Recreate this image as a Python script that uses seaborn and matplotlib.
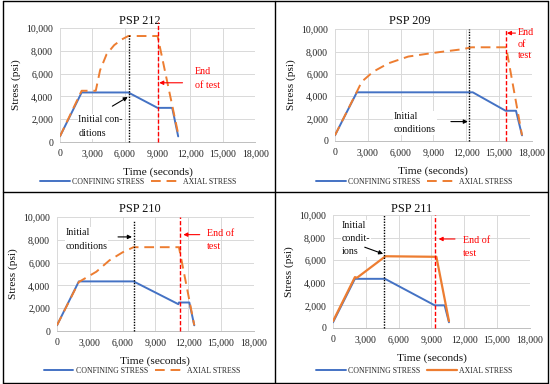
import numpy as np
import pandas as pd
import matplotlib
matplotlib.use('Agg')
import matplotlib.pyplot as plt
import seaborn as sns

# ---- data (time in s, stress in psi) ----
t212_conf = [0, 2000, 6300, 9000, 10350, 10900]
s212_conf = [500, 4350, 4350, 3000, 3000, 500]
t212_ax = [0, 2000, 3300, 3700, 4300, 5000, 5700, 6300, 9000, 10950]
s212_ax = [500, 4500, 4500, 6300, 7700, 8500, 9000, 9300, 9300, 500]

t209_conf = [0, 2000, 12600, 15600, 16550, 17100]
s209_conf = [500, 4350, 4350, 2700, 2700, 500]
t209_ax = [0, 2000, 2450, 3500, 4900, 6700, 9150, 11600, 12500, 15650, 17100]
s209_ax = [500, 4400, 5300, 6200, 6950, 7550, 7900, 8200, 8380, 8380, 500]

t210_conf = [0, 2000, 7000, 11100, 11150, 12100, 12550]
s210_conf = [500, 4350, 4350, 2350, 2500, 2500, 500]
t210_ax = [0, 2000, 2800, 3600, 4800, 6000, 7000, 11150, 12550]
s210_ax = [500, 4300, 4750, 5200, 6200, 6900, 7350, 7350, 500]

t211_conf = [0, 2000, 4750, 9300, 10200, 10600]
s211_conf = [500, 4350, 4350, 2000, 2000, 500]
t211_ax = [0, 2000, 2200, 4800, 9450, 10600]
s211_ax = [600, 4500, 4450, 6350, 6300, 600]

panel_names = ['PSP 212', 'PSP 209', 'PSP 210', 'PSP 211']
initial_time = [6400, 12300, 7000, 4680]
end_time = [9000, 15620, 11230, 9300]
initial_text = ['Initial con-\nditions', 'Initial\nconditions', 'Initial\nconditions', 'Initial\ncondit-\nions']
end_text = ['End\nof test', 'End\nof\ntest', 'End of\ntest', 'End of\ntest']

sns.set_theme(style='whitegrid')
plt.rcParams['font.family'] = ['Liberation Serif', 'DejaVu Serif']

blue = '#4472C4'
orange = '#ED7D31'
red = '#FF0000'

fig = plt.figure(figsize=(5.5, 3.84), dpi=100)

ax_pos = [[0.109, 0.630, 0.355, 0.297],
          [0.609, 0.633, 0.358, 0.291],
          [0.1036, 0.138, 0.358, 0.297],
          [0.6055, 0.146, 0.358, 0.294]]
title_xy = [(0.41, 1.066), (0.38, 1.07), (0.42, 1.073), (0.40, 1.056)]
legend_xy = [(0.251, 0.526), (0.753, 0.526), (0.258, 0.034), (0.753, 0.034)]

series = [(t212_conf, s212_conf, t212_ax, s212_ax),
          (t209_conf, s209_conf, t209_ax, s209_ax),
          (t210_conf, s210_conf, t210_ax, s210_ax),
          (t211_conf, s211_conf, t211_ax, s211_ax)]

# annotation placement: (text xy, arrow tail, arrow head) in data coords
init_ann = [((1700, 1360), (4830, 3150), (6250, 3950)),
            ((5400, 1600), (10600, 1730), (12150, 1730)),
            ((800, 8050), (5580, 8250), (6850, 8250)),
            ((800, 7900), (2900, 7150), (4580, 6560))]
end_ann = [((12450, 5570), (11300, 5200), (9150, 5200)),
           ((16720, 8660), (16500, 9650), (15720, 9650)),
           ((13680, 7980), (13050, 8450), (11550, 8450)),
           ((11900, 7170), (11150, 7880), (9650, 7880))]
init_spacing = [1.7, 1.7, 1.7, 1.6]
end_spacing = [1.7, 1.35, 1.7, 1.7]
vtops = [(9500, 10500), (10000, 10000), (9700, 10000), (10000, 10000)]

for i in range(4):
    ax = fig.add_axes(ax_pos[i])
    tc, sc, ta, sa = series[i]
    sns.lineplot(x=tc, y=sc, ax=ax, color=blue, lw=1.4, sort=False,
                 estimator=None, label='CONFINING STRESS')
    if i == 3:
        sns.lineplot(x=ta, y=sa, ax=ax, color=orange, lw=1.6, sort=False,
                     estimator=None, label='AXIAL STRESS')
    else:
        sns.lineplot(x=ta, y=sa, ax=ax, color=orange, lw=1.4, sort=False,
                     estimator=None, label='AXIAL STRESS', linestyle=(0, (5, 3)))
    ax.vlines(initial_time[i], 0, vtops[i][0], color='black', lw=1.0,
              linestyle=(0, (1, 1)), clip_on=False, zorder=4)
    ax.vlines(end_time[i], 0, vtops[i][1], color=red, lw=1.0,
              linestyle=(0, (3, 1.5)), clip_on=False, zorder=4)

    ax.set_xlim(0, 18000)
    ax.set_ylim(0, 10000)
    ax.set_xticks(np.arange(0, 18001, 3000))
    ax.set_yticks(np.arange(0, 10001, 2000))
    ax.set_xticklabels([f'{v:,}' for v in range(0, 18001, 3000)])
    ax.set_yticklabels([f'{v:,}' for v in range(0, 10001, 2000)])
    ax.tick_params(labelsize=7, pad=5, colors='#222222', length=0)
    ax.grid(True, color='#D9D9D9', lw=0.7)
    for side in ['top', 'right', 'left']:
        ax.spines[side].set_visible(False)
    ax.spines['bottom'].set_color('#BFBFBF')
    ax.spines['bottom'].set_linewidth(0.7)

    ax.set_xlabel('Time (seconds)', fontsize=8.2, color='#111111')
    ax.set_ylabel('Stress (psi)', fontsize=8.2, color='#111111')
    ax.xaxis.set_label_coords(0.5, -0.225)
    ax.yaxis.set_label_coords(-0.2, 0.5)
    ax.text(title_xy[i][0], title_xy[i][1], panel_names[i], transform=ax.transAxes,
            ha='center', va='center', fontsize=8.8, color='#111111')

    txy, tail, head = init_ann[i]
    ax.text(txy[0], txy[1], initial_text[i], fontsize=7.2, color='#111111',
            ha='left', va='center', linespacing=init_spacing[i],
            bbox=dict(facecolor='white', edgecolor='none', pad=0.5), zorder=5)
    ax.annotate('', xy=head, xytext=tail, zorder=6,
                arrowprops=dict(arrowstyle='-|>', color='black', lw=0.8,
                                mutation_scale=6, shrinkA=0, shrinkB=0))
    txy, tail, head = end_ann[i]
    ax.text(txy[0], txy[1], end_text[i], fontsize=7.2, color=red,
            ha='left', va='center', linespacing=end_spacing[i], zorder=5, clip_on=False)
    ax.annotate('', xy=head, xytext=tail, zorder=6, annotation_clip=False,
                arrowprops=dict(arrowstyle='-|>', color=red, lw=0.8,
                                mutation_scale=6, shrinkA=0, shrinkB=0))

    ax.legend(loc='center', bbox_to_anchor=legend_xy[i], bbox_transform=fig.transFigure,
              ncol=2, frameon=False, fontsize=5.6, handlelength=3.8,
              handletextpad=0.3, columnspacing=0.9)

# panel frame lines
for xs, ys in [([3 / 550, 548 / 550], [383 / 384, 383 / 384]),
               ([3 / 550, 548 / 550], [1 / 384, 1 / 384]),
               ([3 / 550, 3 / 550], [1 / 384, 383 / 384]),
               ([548 / 550, 548 / 550], [1 / 384, 383 / 384]),
               ([3 / 550, 548 / 550], [1 - 192 / 384, 1 - 192 / 384]),
               ([275 / 550, 275 / 550], [1 / 384, 383 / 384])]:
    fig.add_artist(plt.Line2D(xs, ys, color='black', lw=1.0, transform=fig.transFigure))

fig.savefig('out.png', dpi=100)
